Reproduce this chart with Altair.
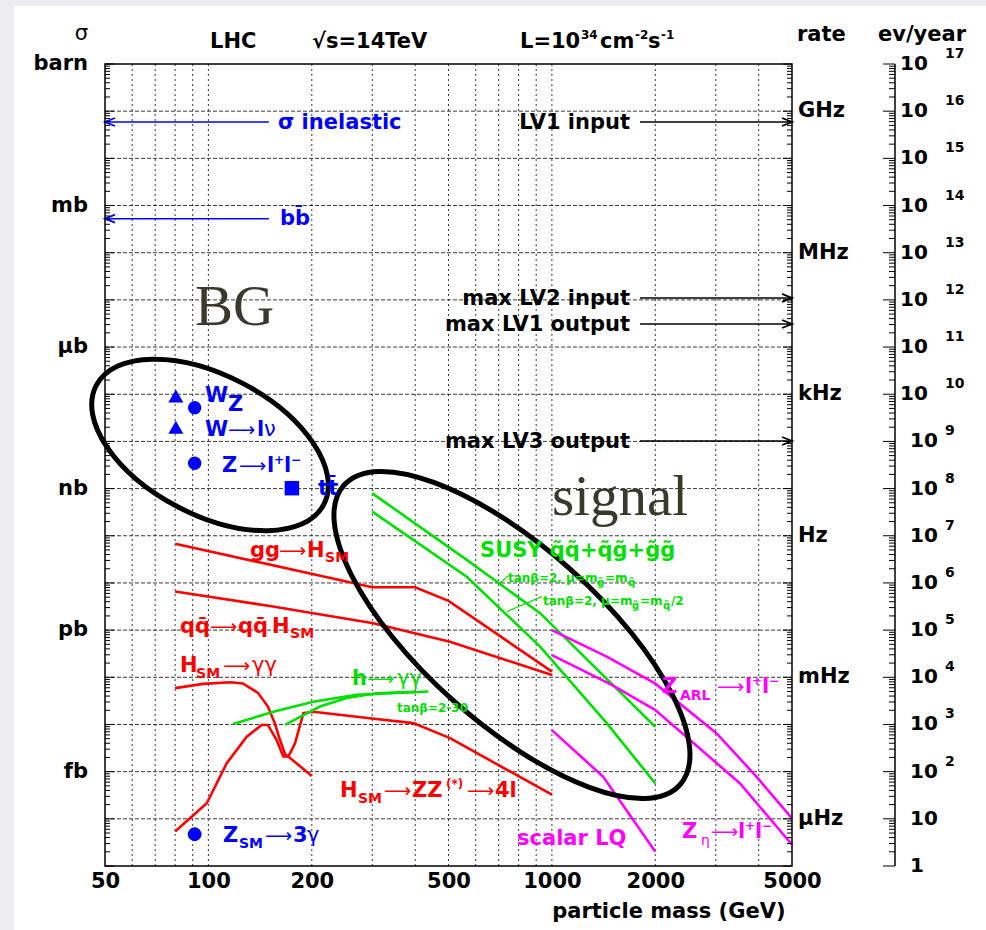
import altair as alt
import pandas as pd

W, H = 687, 802
FONT = "DejaVu Sans"
SERIF = "Liberation Serif"
RED, GREEN, BLUE, MAG, BLK = "#ff0000", "#00e000", "#0000ff", "#ff00ff", "#000000"

# ---------------- data (mass in GeV, cross section in pb) ----------------
ggH_mass = [80, 300, 400, 500, 1000]
ggH_xs = [67.6, 8.13, 8.13, 4.17, 0.132]
qqH_mass = [80, 151, 302, 505, 1000]
qqH_xs = [6.61, 3.24, 1.40, 0.569, 0.112]
Hgg_mass = [80, 96.5, 115.6, 126, 139.4, 149, 156, 161.6, 167.2, 172.8, 200]
Hgg_xs = [0.0589, 0.0724, 0.0785, 0.0741, 0.0468, 0.0240, 0.0107, 0.00468, 0.00234, 0.00195, 0.000813]
HZZ_mass = [80, 98.9, 113.1, 129.3, 142.9, 149, 158, 165.2, 170.9, 178.7, 189, 202, 295, 395, 505, 1000]
HZZ_xs = [5.37e-5, 2.14e-4, 1.51e-3, 5.50e-3, 9.77e-3, 9.77e-3, 4.68e-3, 2.09e-3, 2.09e-3,
          3.98e-3, 0.0174, 0.0186, 0.0135, 0.0107, 5.13e-3, 3.24e-4]
hgg1_mass = [118, 154.5, 202, 270, 437]
hgg1_xs = [0.0102, 0.0186, 0.0302, 0.0427, 0.0501]
hgg2_mass = [167.2, 189, 211.3, 252.6, 309, 400]
hgg2_xs = [0.00977, 0.0158, 0.0240, 0.0363, 0.0457, 0.0490]
susy1_mass = [300, 565, 924, 2000]
susy1_xs = [794, 30.9, 2.29, 0.00891]
susy2_mass = [300, 565, 924, 1444, 2000]
susy2_xs = [324, 13.5, 0.447, 0.0107, 5.62e-4]
zarl_mass = [1000, 1444, 1996, 3018, 3945, 5000]
zarl_xs = [1.0, 0.275, 0.0741, 6.46e-3, 7.76e-4, 1.02e-4]
zeta_mass = [1000, 1494, 1996, 2523, 3530, 5000]
zeta_xs = [0.295, 0.0692, 0.0204, 4.68e-3, 5.62e-4, 2.82e-5]
lq_mass = [1000, 1411, 2000]
lq_xs = [7.59e-3, 7.76e-4, 2.0e-5]

curves = [
    ("ggH", RED, ggH_mass, ggH_xs), ("qqH", RED, qqH_mass, qqH_xs),
    ("Hgg", RED, Hgg_mass, Hgg_xs), ("HZZ", RED, HZZ_mass, HZZ_xs),
    ("hgg1", GREEN, hgg1_mass, hgg1_xs), ("hgg2", GREEN, hgg2_mass, hgg2_xs),
    ("susy1", GREEN, susy1_mass, susy1_xs), ("susy2", GREEN, susy2_mass, susy2_xs),
    ("zarl", MAG, zarl_mass, zarl_xs), ("zeta", MAG, zeta_mass, zeta_xs),
    ("lq", MAG, lq_mass, lq_xs),
]

pt_name = ["W", "Z", "W->lv", "Z->ll", "ttbar", "Z->3gamma"]
pt_mass = [80.4, 91.2, 80.4, 91.2, 175, 91.2]
pt_xs = [9.18e4, 5.19e4, 2.0e4, 3.44e3, 1.02e3, 4.71e-5]
pt_shape = ["triangle-up", "circle", "triangle-up", "circle", "square", "circle"]
pt_size = [225, 180, 225, 180, 210, 190]

arrow_name = ["sigma inelastic", "bbbar", "LV1 input", "max LV2 input", "max LV1 output", "max LV3 output"]
arrow_xs = [5.9e10, 5.26e8, 5.9e10, 1.1e7, 3.08e6, 1.02e4]
arrow_from = [150, 150, 1805, 1805, 1805, 1805]
arrow_to = [50, 50, 5000, 5000, 5000, 5000]
arrow_col = [BLUE, BLUE, BLK, BLK, BLK, BLK]

decades = [10.0 ** k for k in range(-5, 13)]
minors = [d * 10.0 ** k for k in range(-5, 12) for d in range(2, 10)]
grid_mass = [60, 70, 80, 90, 100, 200, 300, 400, 500, 600, 700, 800, 900, 1000, 2000, 3000, 4000]
x_ticks = [50, 100, 200, 500, 1000, 2000, 5000]

sigma_units = ["barn", "mb", "μb", "nb", "pb", "fb"]
sigma_unit_xs = [1e12, 1e9, 1e6, 1e3, 1.0, 1e-3]
rate_units = ["GHz", "MHz", "kHz", "Hz", "mHz", "μHz"]
rate_xs = [1e11, 1e8, 1e5, 1e2, 1e-1, 1e-4]
ev_exp = list(range(17, -1, -1))
ev_xs = [10.0 ** (e - 5) for e in ev_exp]

# annotations: (mass, xs, color, [(text, dx, dy, size, weight)])
ARW = "⟶"
AS = 19
labels = [
    (159.4, 4.19e10, BLUE, [("σ inelastic", 0, 0, 21, "bold")]),
    (161.6, 3.87e8, BLUE, [("bb\u0304", 0, 0, 21, "bold")]),
    (97.7, 6.86e4, BLUE, [("W", 0, 0, 21, "bold")]),
    (114, 4.42e4, BLUE, [("Z", 0, 0, 21, "bold")]),
    (97.7, 1.30e4, BLUE, [("W", 0, 0, 21, "bold"), (ARW, 23, 0, AS, "normal"),
                          ("l", 52, 0, 21, "bold"), ("ν", 59, 0, 21, "normal")]),
    (109.5, 2.25e3, BLUE, [("Z", 0, 0, 21, "bold"), (ARW, 17, 0, AS, "normal"), ("l", 45, 0, 21, "bold"),
                           ("+", 52, -8, 12, "bold"), ("l", 62, 0, 21, "bold"), ("−", 69, -8, 12, "bold")]),
    (208.6, 733, BLUE, [("tt\u0304", 0, 0, 21, "bold")]),
    (110.3, 3.24e-5, BLUE, [("Z", 0, 0, 21, "bold"), ("SM", 16, 6, 14, "bold"), (ARW, 42, 0, AS, "normal"),
                            ("3", 70, 0, 21, "bold"), ("γ", 84, 0, 21, "normal")]),
    (132.2, 35.6, RED, [("gg", 0, 0, 21, "bold"), (ARW, 29, 0, AS, "normal"), ("H", 57, 0, 21, "bold"),
                        ("SM", 75, 5, 14, "bold")]),
    (82.7, 0.871, RED, [("qq\u0304", 0, 0, 21, "bold"), (ARW, 30, 0, AS, "normal"), ("qq\u0304", 58, 0, 21, "bold"),
                        ("H", 92, 0, 21, "bold"), ("SM", 110, 5, 14, "bold")]),
    (82.7, 0.130, RED, [("H", 0, 0, 21, "bold"), ("SM", 16, 6, 14, "bold"), (ARW, 43, 0, AS, "normal"),
                        ("γγ", 72, 0, 21, "normal")]),
    (241.6, 2.91e-4, RED, [("H", 0, 0, 21, "bold"), ("SM", 18, 6, 14, "bold"), (ARW, 44, 0, AS, "normal"),
                           ("ZZ", 72, 0, 21, "bold"), ("(*)", 106, -9, 12, "bold"), (ARW, 127, 0, AS, "normal"),
                           ("4l", 155, 0, 21, "bold")]),
    (261.8, 0.0689, GREEN, [("h", 0, 0, 21, "bold"), (ARW, 15, 0, AS, "normal"), ("γγ", 45, 0, 21, "normal")]),
    (354, 0.0184, GREEN, [("tanβ=2-30", 0, 0, 12, "bold")]),
    (617.6, 35.6, GREEN, [("SUSY q\u0303q\u0303+q\u0303g\u0303+g\u0303g\u0303", 0, 0, 21, "bold")]),
    (745, 10.5, GREEN, [("tanβ=2, μ=m", 0, 0, 12, "bold"), ("g\u0303", 89, 4, 10, "bold"),
                        ("=m", 97, 0, 12, "bold"), ("q\u0303", 120, 4, 10, "bold")]),
    (942, 3.41, GREEN, [("tanβ=2, μ=m", 0, 0, 12, "bold"), ("g\u0303", 89, 4, 10, "bold"),
                        ("=m", 97, 0, 12, "bold"), ("q\u0303", 120, 4, 10, "bold"), ("/2", 128, 0, 12, "bold")]),
    (2091, 0.0466, MAG, [("Z", 0, 0, 21, "bold"), ("ARL", 18, 7, 14, "bold"), (ARW, 55, 0, AS, "normal"),
                         ("l", 83, 0, 21, "bold"), ("+", 90, -8, 12, "bold"), ("l", 100, 0, 21, "bold"),
                         ("−", 107, -8, 12, "bold")]),
    (791.6, 2.80e-5, MAG, [("scalar LQ", 0, 0, 21, "bold")]),
    (2392, 3.94e-5, MAG, [("Z", 0, 0, 21, "bold"), ("η", 19, 7, 14, "normal"), (ARW, 29, 0, AS, "normal"),
                          ("l", 56, 0, 21, "bold"), ("+", 63, -8, 12, "bold"), ("l", 73, 0, 21, "bold"),
                          ("−", 80, -8, 12, "bold")]),
]
trigger_text = ["LV1 input", "max LV2 input", "max LV1 output", "max LV3 output"]
trigger_xs = [4.19e10, 7.80e6, 2.19e6, 7.26e3]
trigger_mass = 1688

big_text = ["BG", "signal"]
big_mass = [91.4, 1000]
big_xs = [2.94e6, 276]

leader_m1 = [706, 738.7]
leader_m2 = [745, 933.7]
leader_y1 = [10.0, 2.47]
leader_y2 = [13.96, 5.13]

# ellipses: centre (mass, xs), semi-axes px, tilt deg
ell_mass = [101.1, 765]
ell_xs = [8414, 0.789]
ell_a = [128.4, 225.1]
ell_b = [69.8, 88.0]
ell_angle = [27.6, 41.7]

# ---------------- scales ----------------
XS = alt.Scale(type="log", domain=[50, 5000], nice=False, zero=False)
YS = alt.Scale(type="log", domain=[1e-5, 1e12], nice=False, zero=False)

XAXIS = alt.Axis(values=x_ticks, format="d", labelFlush=False, labelOverlap=False, labelBound=False,
                 ticks=False, tickSize=0, domain=False, grid=False, labelFont=FONT, labelFontWeight="bold",
                 labelFontSize=21, labelColor=BLK, labelPadding=4, title="particle mass (GeV)",
                 titleFont=FONT, titleFontWeight="bold", titleFontSize=21, titleColor=BLK,
                 titleAnchor="end", titleAlign="right", titleX=680, titleY=51, titleBaseline="alphabetic",
                 zindex=2)


def X(f):
    return alt.X(f, type="quantitative", scale=XS, axis=XAXIS)


def Y(f):
    return alt.Y(f, type="quantitative", scale=YS, axis=None)


one = pd.DataFrame({"a": [0]})
layers = []

# white page background
layers.append(alt.Chart(one).mark_rect(color="white").encode(
    x=alt.value(-91), x2=alt.value(900), y=alt.value(-58), y2=alt.value(900)))

# grid
layers.append(alt.Chart(pd.DataFrame({"mass": grid_mass})).mark_rule(
    color="#222", strokeWidth=0.9, strokeDash=[2, 3]).encode(
    x=X("mass"), y=alt.value(0), y2=alt.value(H)))
layers.append(alt.Chart(pd.DataFrame({"xs": decades[1:-1]})).mark_rule(
    color="#222", strokeWidth=0.9, strokeDash=[4, 2]).encode(
    y=Y("xs"), x=alt.value(0), x2=alt.value(W)))

# curves
rows = []
for name, col, ms, xs in curves:
    for i, (m, s) in enumerate(zip(ms, xs)):
        rows.append({"series": name, "col": col, "mass": m, "xs": s, "o": i})
cdf = pd.DataFrame(rows)
layers.append(alt.Chart(cdf).mark_line(strokeWidth=2.6).encode(
    x=X("mass"), y=Y("xs"), detail="series:N", order="o:Q",
    color=alt.Color("col:N", scale=None)))

# leader lines
layers.append(alt.Chart(pd.DataFrame({"mass": leader_m1, "m2": leader_m2, "y1": leader_y1, "y2": leader_y2}))
              .mark_rule(color=GREEN, strokeWidth=1.2).encode(
    x=X("mass"), x2="m2", y=Y("y1"), y2="y2"))

# ellipses
for m, s, a, b, ang in zip(ell_mass, ell_xs, ell_a, ell_b, ell_angle):
    path = f"M {-a} 0 A {a} {b} 0 1 1 {a} 0 A {a} {b} 0 1 1 {-a} 0 Z"
    layers.append(alt.Chart(pd.DataFrame({"mass": [m], "xs": [s]})).mark_point(
        shape=path, size=4, angle=ang, filled=False, strokeWidth=5, color=BLK, opacity=1).encode(
        x=X("mass"), y=Y("xs")))

# markers
layers.append(alt.Chart(pd.DataFrame({"mass": pt_mass, "xs": pt_xs, "shape": pt_shape, "size": pt_size,
                                      "name": pt_name}))
              .mark_point(filled=True, opacity=1, color=BLUE).encode(
    x=X("mass"), y=Y("xs"), shape=alt.Shape("shape:N", scale=None), size=alt.Size("size:Q", scale=None)))

# arrows
adf = pd.DataFrame({"mass": arrow_from, "m2": arrow_to, "xs": arrow_xs, "col": arrow_col, "name": arrow_name})
layers.append(alt.Chart(adf).mark_rule(strokeWidth=1.5).encode(
    x=X("mass"), x2="m2", y=Y("xs"), color=alt.Color("col:N", scale=None)))
head = adf[["m2", "xs", "col"]].rename(columns={"m2": "mass"})
layers.append(alt.Chart(head[head.mass < 100]).mark_point(
    shape="M 10 -4 L 0 0 L 10 4", size=4, filled=False, strokeWidth=1.8, opacity=1).encode(
    x=X("mass"), y=Y("xs"), color=alt.Color("col:N", scale=None)))
layers.append(alt.Chart(head[head.mass > 100]).mark_point(
    shape="M -10 -4 L 0 0 L -10 4", size=4, filled=False, strokeWidth=1.8, opacity=1).encode(
    x=X("mass"), y=Y("xs"), color=alt.Color("col:N", scale=None)))

# annotation texts
for m, s, col, pieces in labels:
    d = pd.DataFrame({"mass": [m], "xs": [s]})
    for t, dx, dy, size, wt in pieces:
        layers.append(alt.Chart(d).mark_text(
            text=t, align="left", baseline="alphabetic", dx=dx, dy=dy, fontSize=size,
            fontWeight=wt, font=FONT, color=col).encode(x=X("mass"), y=Y("xs")))

layers.append(alt.Chart(pd.DataFrame({"mass": [trigger_mass] * 4, "xs": trigger_xs, "t": trigger_text}))
              .mark_text(align="right", baseline="alphabetic", fontSize=21, fontWeight="bold", font=FONT,
                         color=BLK).encode(x=X("mass"), y=Y("xs"), text="t:N"))

layers.append(alt.Chart(pd.DataFrame({"mass": big_mass, "xs": big_xs, "t": big_text}))
              .mark_text(align="left", baseline="alphabetic", fontSize=57, font=SERIF,
                         color="#3a3a2c").encode(x=X("mass"), y=Y("xs"), text="t:N"))

# frame and ticks
layers.append(alt.Chart(one).mark_rect(fillOpacity=0, stroke=BLK, strokeWidth=1.5).encode(
    x=alt.value(0), x2=alt.value(W), y=alt.value(0), y2=alt.value(H)))
for vals, L in [(decades, 9), (minors, 5)]:
    d = pd.DataFrame({"xs": vals})
    layers.append(alt.Chart(d).mark_rule(color=BLK, strokeWidth=1).encode(
        y=Y("xs"), x=alt.value(0), x2=alt.value(L)))
    layers.append(alt.Chart(d).mark_rule(color=BLK, strokeWidth=1).encode(
        y=Y("xs"), x=alt.value(W), x2=alt.value(W - L)))

# events / year axis
EVX = 790
layers.append(alt.Chart(one).mark_rule(color=BLK, strokeWidth=1.5).encode(
    x=alt.value(EVX), y=alt.value(0), y2=alt.value(H)))
for vals, L in [(decades, 12), (minors, 6)]:
    layers.append(alt.Chart(pd.DataFrame({"xs": vals})).mark_rule(color=BLK, strokeWidth=1).encode(
        y=Y("xs"), x=alt.value(EVX - L), x2=alt.value(EVX)))
evdf = pd.DataFrame({"xs": ev_xs, "e": ev_exp})
evdf["base"] = ["1" if e == 0 else "10" for e in ev_exp]
evdf["sup"] = ["" if e < 2 else str(e) for e in ev_exp]
layers.append(alt.Chart(evdf[evdf.e >= 10]).mark_text(
    align="left", baseline="middle", fontSize=20, fontWeight="bold", font=FONT, color=BLK).encode(
    x=alt.value(795), y=Y("xs"), text="base:N"))
layers.append(alt.Chart(evdf[evdf.e < 10]).mark_text(
    align="left", baseline="middle", fontSize=20, fontWeight="bold", font=FONT, color=BLK).encode(
    x=alt.value(805), y=Y("xs"), text="base:N"))
layers.append(alt.Chart(evdf).mark_text(
    align="left", baseline="middle", fontSize=14, fontWeight="bold", font=FONT, color=BLK, dy=-10).encode(
    x=alt.value(840), y=Y("xs"), text="sup:N"))

# unit labels
layers.append(alt.Chart(pd.DataFrame({"xs": sigma_unit_xs, "t": sigma_units})).mark_text(
    align="right", baseline="middle", fontSize=21, fontWeight="bold", font=FONT, color=BLK).encode(
    x=alt.value(-17), y=Y("xs"), text="t:N"))
layers.append(alt.Chart(pd.DataFrame({"xs": rate_xs, "t": rate_units})).mark_text(
    align="left", baseline="middle", fontSize=21, fontWeight="bold", font=FONT, color=BLK).encode(
    x=alt.value(693), y=Y("xs"), text="t:N"))

# header texts (page positions relative to plot origin)
header = [
    ("σ", 88, 40, 21, "normal", "right"),
    ("LHC", 210, 48, 21, "bold", "left"),
    ("√s=14TeV", 312, 48, 21, "bold", "left"),
    ("L=10", 520, 48, 21, "bold", "left"),
    ("34", 581, 39, 12, "bold", "left"),
    ("cm", 600, 48, 21, "bold", "left"),
    ("-2", 635, 39, 12, "bold", "left"),
    ("s", 648, 48, 21, "bold", "left"),
    ("-1", 661, 39, 12, "bold", "left"),
    ("rate", 797, 41, 21, "bold", "left"),
    ("ev/year", 878, 41, 21, "bold", "left"),
]
for t, hx, hy, size, wt, al in header:
    layers.append(alt.Chart(one).mark_text(
        text=t, align=al, baseline="alphabetic", fontSize=size, fontWeight=wt, font=FONT, color=BLK).encode(
        x=alt.value(hx - 105), y=alt.value(hy - 64)))

chart = alt.layer(*layers).properties(
    width=W, height=H,
    padding={"left": 105, "top": 64, "right": 194, "bottom": 64},
    autosize=alt.AutoSizeParams(type="none"),
    background="#ececf1",
).configure_view(stroke=None)

chart.save("out.html", embed_options={"renderer": "svg", "actions": False})
